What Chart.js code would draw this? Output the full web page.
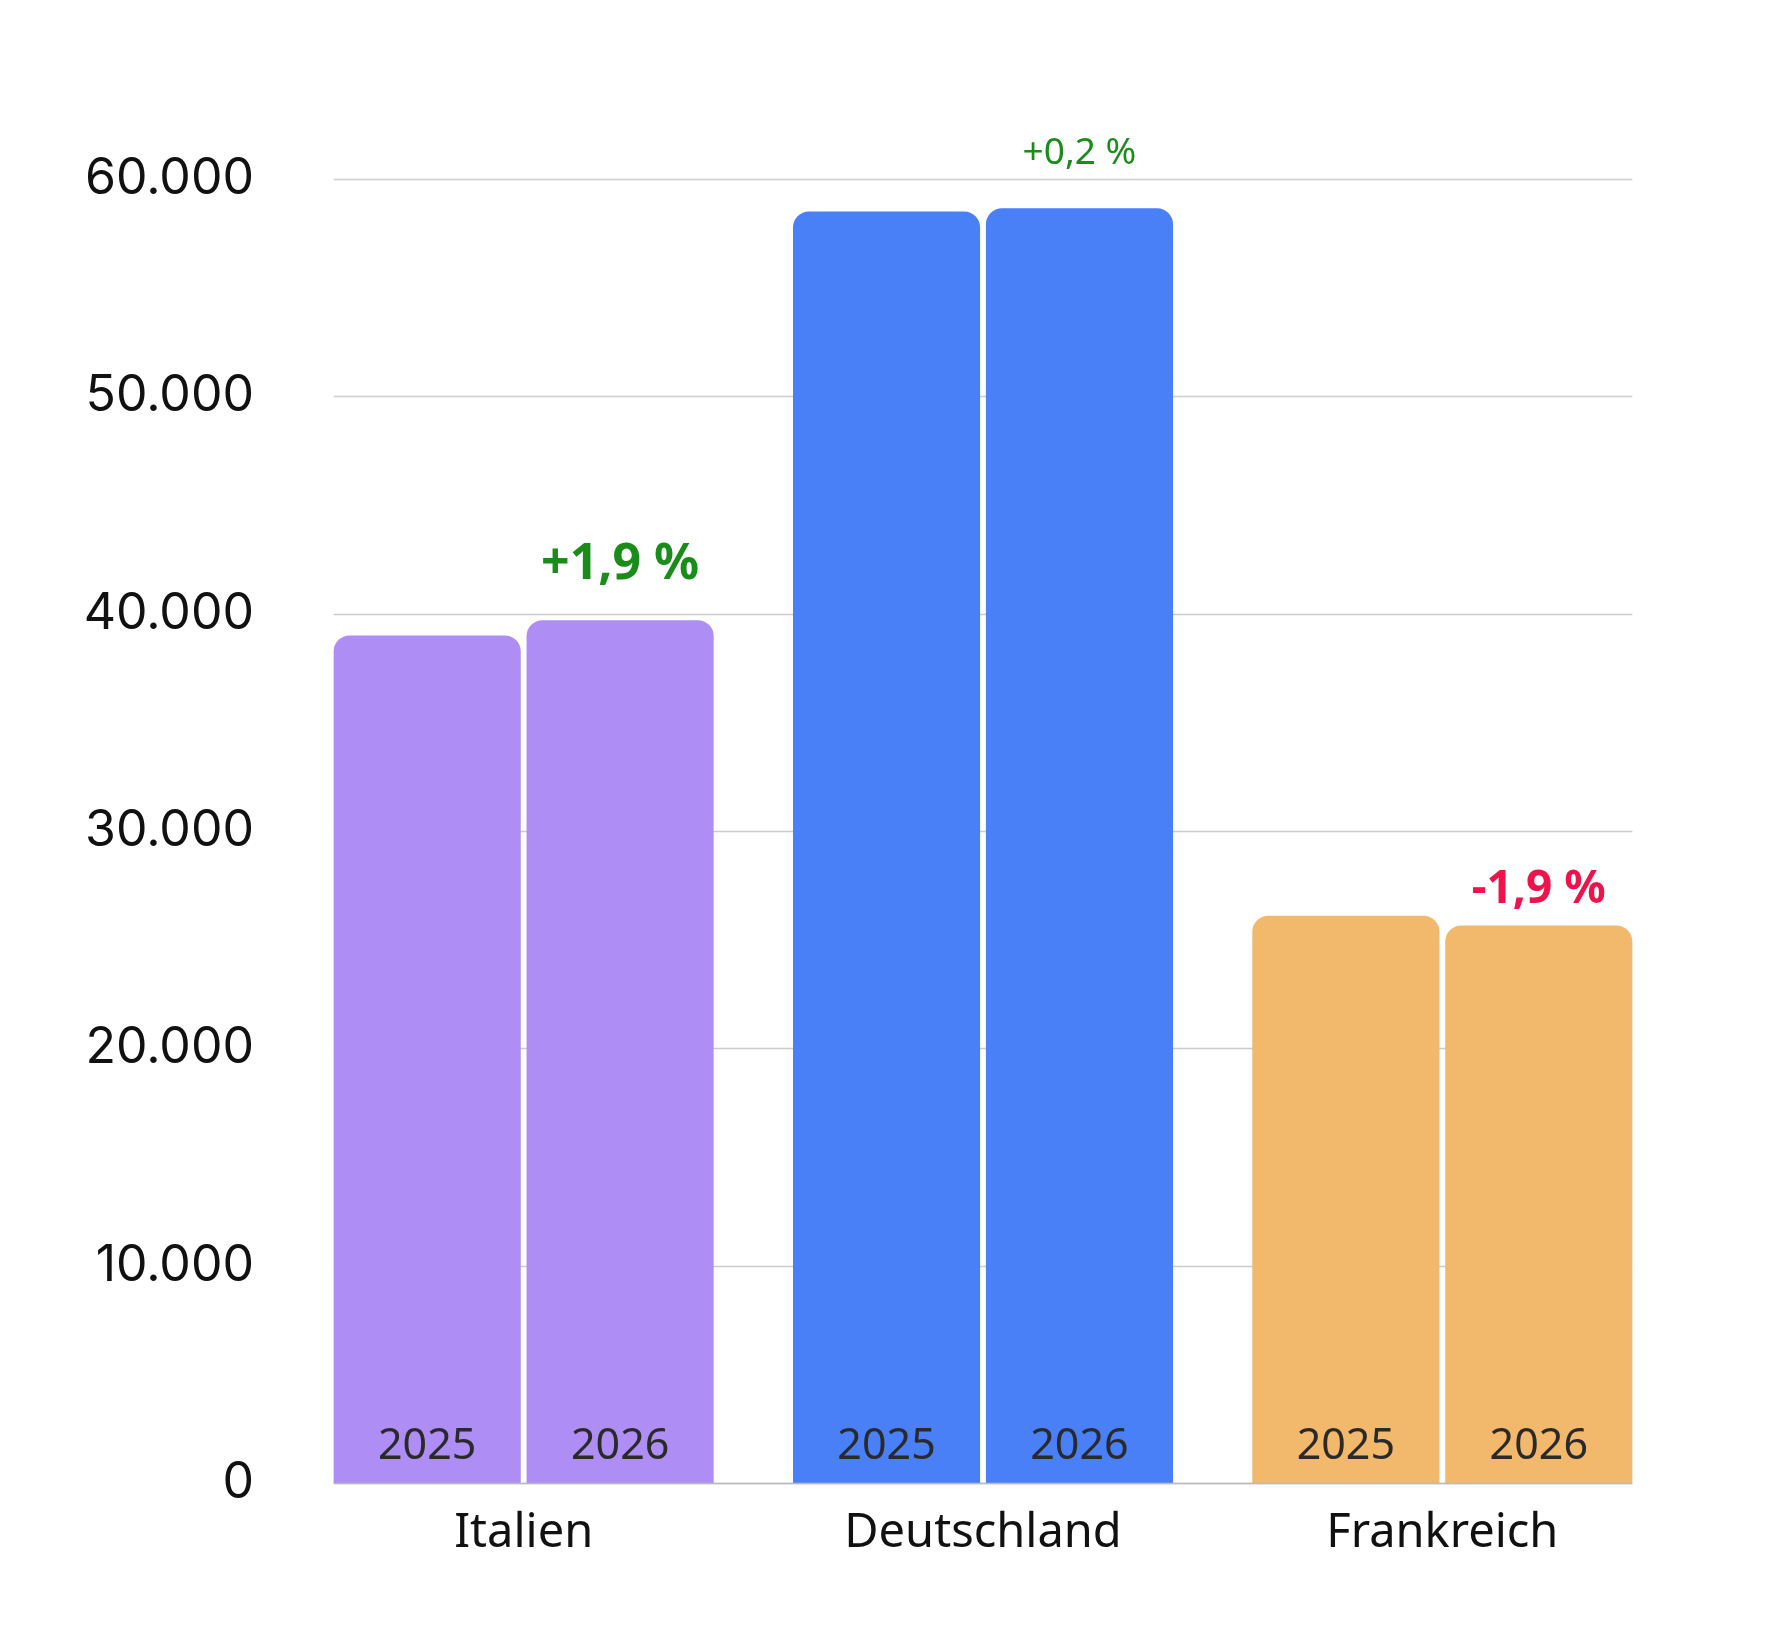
<!DOCTYPE html>
<html>
<head>
<meta charset="utf-8">
<script src="https://cdn.jsdelivr.net/npm/chart.js@4"></script>
<style>
  html, body { margin: 0; padding: 0; background: #fff; }
  #wrap { width: 1788px; height: 1634px; }
</style>
</head>
<body>
<div id="wrap"><canvas id="myChart" width="1788" height="1634"></canvas></div>
<script>
const laender = ["Italien", "Deutschland", "Frankreich"];
const jahre = ["2025", "2026"];
const werte2025 = [39000, 58500, 26100];
const werte2026 = [39700, 58650, 25650];
const veraenderung = ["+1,9 %", "+0,2 %", "-1,9 %"];
const farben = ["#ae8ef4", "#4a80f7", "#f2b86c"];
const yTicks = [0, 10000, 20000, 30000, 40000, 50000, 60000];

// Beschriftungen, Gitterlinien
const extras = {
    id: 'extras',
    beforeDatasetsDraw(chart) {
        const ctx = chart.ctx;
        const y = chart.scales.y;
        const m0 = chart.getDatasetMeta(0).data;
        const m1 = chart.getDatasetMeta(1).data;
        const left = m0[0].x - m0[0].width / 2;
        const right = m1[2].x + m1[2].width / 2;
        ctx.save();
        ctx.strokeStyle = '#cccccc';
        ctx.lineWidth = 1.5;
        yTicks.forEach(function (t) {
            const py = Math.round(y.getPixelForValue(t)) + 0.5;
            ctx.beginPath();
            ctx.moveTo(left, py);
            ctx.lineTo(right, py);
            ctx.stroke();
        });
        ctx.restore();
    },
    afterDatasetsDraw(chart) {
        const ctx = chart.ctx;
        const y = chart.scales.y;
        ctx.save();
        ctx.textAlign = 'center';
        ctx.textBaseline = 'middle';
        ctx.font = '43px "Noto Sans"';
        ctx.fillStyle = '#2a2a2a';
        [0, 1].forEach(function (d) {
            chart.getDatasetMeta(d).data.forEach(function (bar) {
                ctx.fillText(jahre[d], bar.x, y.getPixelForValue(0) - 36);
            });
        });
        const m1 = chart.getDatasetMeta(1).data;
        const stile = [
            { font: 'bold 50px "Noto Sans"', color: '#1a8c1a', off: 55 },
            { font: '37px "Noto Sans"', color: '#1a8c1a', off: 55 },
            { font: 'bold 46px "Noto Sans"', color: '#f0124a', off: 36 }
        ];
        m1.forEach(function (bar, i) {
            ctx.font = stile[i].font;
            ctx.fillStyle = stile[i].color;
            ctx.fillText(veraenderung[i], bar.x, bar.y - stile[i].off);
        });
        ctx.restore();
    }
};

const CHART = document.getElementById("myChart");
let wykres = new Chart(CHART, {
    type: 'bar',
    data: {
        labels: laender,
        datasets: [
            { label: jahre[0], data: werte2025, backgroundColor: farben },
            { label: jahre[1], data: werte2026, backgroundColor: farben }
        ]
    },
    options: {
        responsive: false,
        animation: false,
        layout: { padding: { left: 0, right: 116, top: 179, bottom: 0 } },
        datasets: {
            bar: {
                categoryPercentage: 0.84,
                barPercentage: 0.97,
                borderRadius: { topLeft: 16, topRight: 16, bottomLeft: 0, bottomRight: 0 },
                borderSkipped: false
            }
        },
        plugins: { legend: { display: false }, tooltip: { enabled: false } },
        scales: {
            x: {
                grid: { display: false },
                border: { display: false },
                ticks: { color: '#111', font: { size: 47, family: 'Noto Sans' }, padding: 14 },
                afterFit(s) { s.height = 151; }
            },
            y: {
                min: 0,
                max: 60000,
                grid: { display: false },
                border: { display: false },
                afterBuildTicks(s) { s.ticks = yTicks.map(function (v) { return { value: v }; }); },
                afterFit(s) { s.width = 294; },
                ticks: {
                    color: '#111',
                    padding: 32,
                    font: { size: 50, family: 'Inter' },
                    callback: function (v) { return v === 0 ? '0' : v.toLocaleString('de-DE'); }
                }
            }
        }
    },
    plugins: [extras, {
        id: 'basis',
        afterDraw(chart) {
            const ctx = chart.ctx;
            const m0 = chart.getDatasetMeta(0).data;
            const m1 = chart.getDatasetMeta(1).data;
            const py = Math.round(chart.scales.y.getPixelForValue(0)) + 0.5;
            ctx.save();
            ctx.strokeStyle = '#bbbbbb';
            ctx.lineWidth = 1.5;
            ctx.beginPath();
            ctx.moveTo(m0[0].x - m0[0].width / 2, py);
            ctx.lineTo(m1[2].x + m1[2].width / 2, py);
            ctx.stroke();
            ctx.restore();
        }
    }]
});
</script>
</body>
</html>
